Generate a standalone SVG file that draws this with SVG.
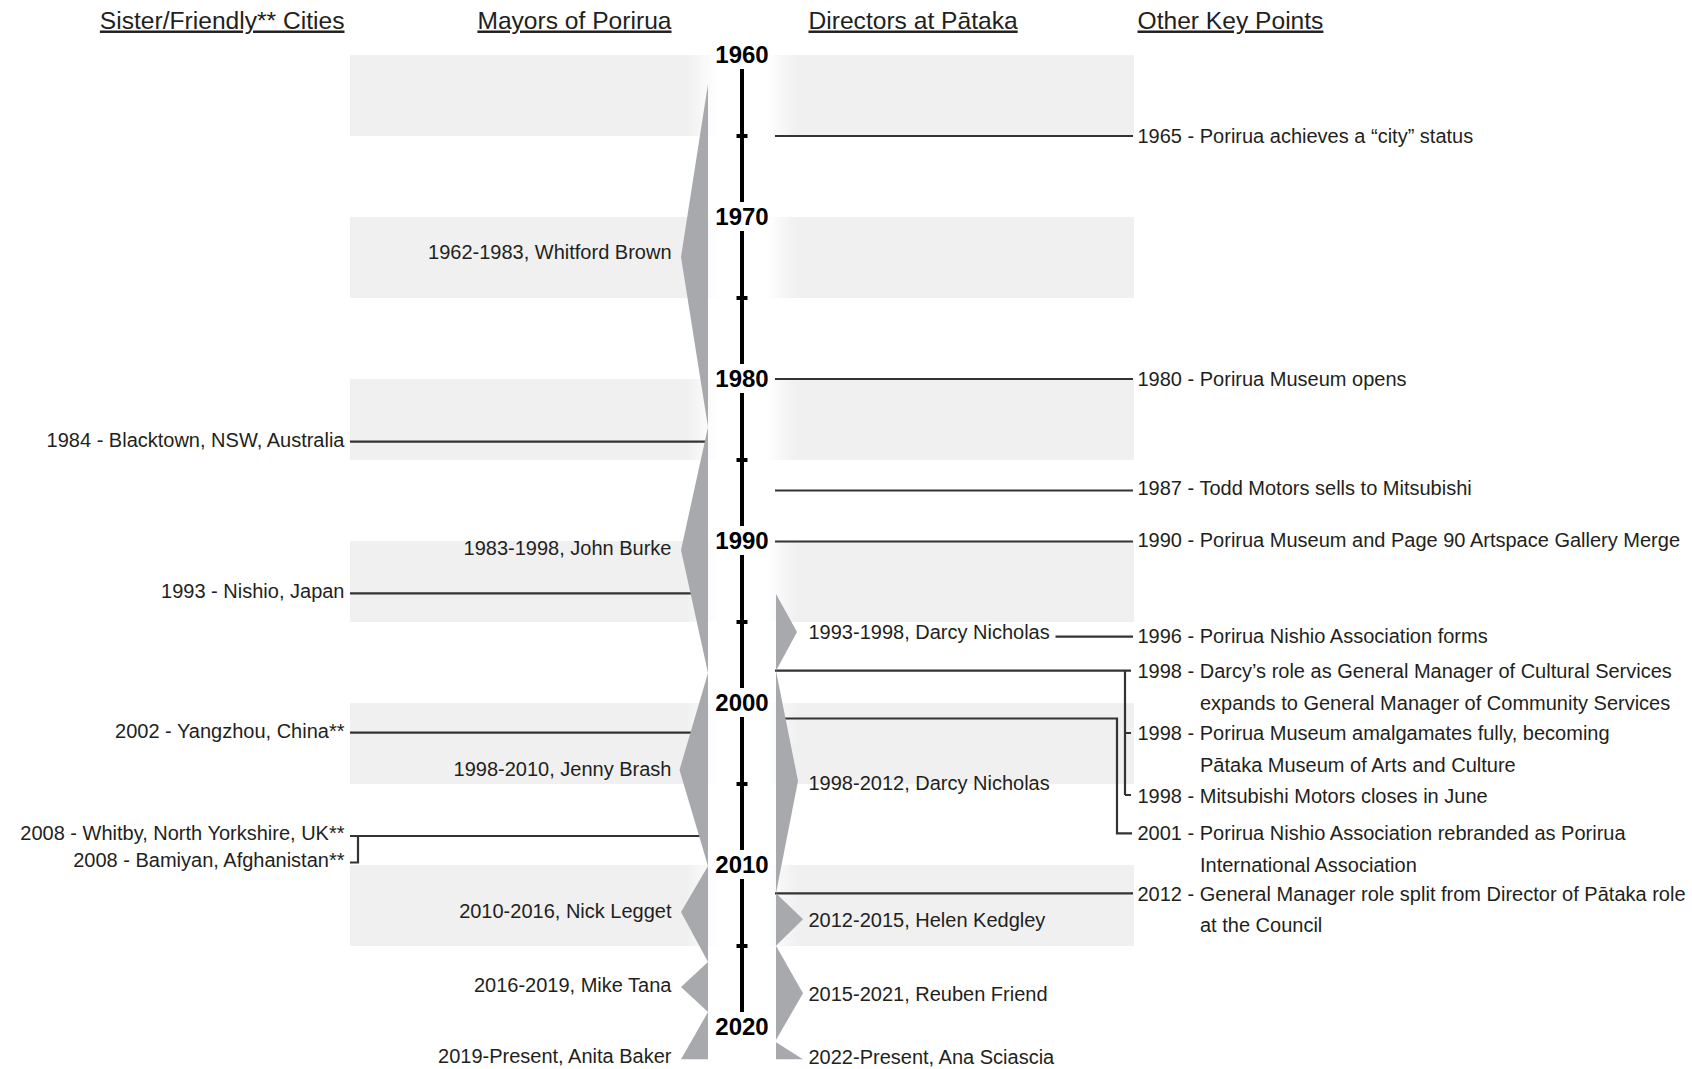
<svg xmlns="http://www.w3.org/2000/svg" width="1692" height="1069" viewBox="0 0 1692 1069">
<defs>
<linearGradient id="bandGrad" gradientUnits="userSpaceOnUse" x1="350" y1="0" x2="1134" y2="0">
  <stop offset="0" stop-color="#f0f0f0"/>
  <stop offset="0.4286" stop-color="#f0f0f0"/>
  <stop offset="0.4694" stop-color="#ffffff"/>
  <stop offset="0.5306" stop-color="#ffffff"/>
  <stop offset="0.5689" stop-color="#f0f0f0"/>
  <stop offset="1" stop-color="#f0f0f0"/>
</linearGradient>
<style>
text { font-family: "Liberation Sans", Arial, sans-serif; fill: #231f20; font-size: 20px; }
.r { text-anchor: end; }
.h { font-size: 24.6px; text-decoration: underline; }
.yr { font-size: 24px; font-weight: bold; text-anchor: middle; fill: #000; }
.band { fill: url(#bandGrad); }
.ln { stroke: #333; stroke-width: 2.2; fill: none; }
.ax { stroke: #000; stroke-width: 4; }
.tick { fill: #000; }
.shape { fill: #a8a9ad; }
</style>
</defs>
<rect width="1692" height="1069" fill="#fff"/>

<g id="bands">
  <rect class="band" x="350" y="55" width="784" height="81"/>
  <rect class="band" x="350" y="217" width="784" height="81"/>
  <rect class="band" x="350" y="379" width="784" height="81"/>
  <rect class="band" x="350" y="541" width="784" height="81"/>
  <rect class="band" x="350" y="703" width="784" height="81"/>
  <rect class="band" x="350" y="865" width="784" height="81"/>
</g>

<g id="titles">
  <text class="h r" x="344.5" y="28.5">Sister/Friendly** Cities</text>
  <text class="h r" x="671.5" y="28.5">Mayors of Porirua</text>
  <text class="h" x="808.5" y="28.5">Directors at Pātaka</text>
  <text class="h" x="1137.5" y="28.5">Other Key Points</text>
</g>

<g id="connectors">
  <path class="ln" d="M775 136 H1133"/>
  <path class="ln" d="M775 379 H1133"/>
  <path class="ln" d="M775 490.5 H1133"/>
  <path class="ln" d="M775 541.5 H1133"/>
  <path class="ln" d="M1055.5 636.7 H1133"/>
  <path class="ln" d="M775 670.7 H1131 M1125 670.7 V795 M1125 733 H1131 M1125 795 H1131"/>
  <path class="ln" d="M776 718.5 H1117 V833.3 H1132"/>
  <path class="ln" d="M775 893.3 H1133"/>
  <path class="ln" d="M350 441.7 H708"/>
  <path class="ln" d="M350 593.3 H708"/>
  <path class="ln" d="M350 732.7 H708"/>
  <path class="ln" d="M350 836 H708 M358 836 V862.5 H350"/>
</g>

<g id="axis">
  <path class="ax" d="M742 69 V202 M742 231 V364 M742 393 V526 M742 555 V688 M742 717 V850 M742 879 V1012"/>
  <rect class="tick" x="736.5" y="134" width="11" height="4"/>
  <rect class="tick" x="736.5" y="296" width="11" height="4"/>
  <rect class="tick" x="736.5" y="458" width="11" height="4"/>
  <rect class="tick" x="736.5" y="620" width="11" height="4"/>
  <rect class="tick" x="736.5" y="782" width="11" height="4"/>
  <rect class="tick" x="736.5" y="944" width="11" height="4"/>
  <text class="yr" x="742" y="62.5">1960</text>
  <text class="yr" x="742" y="224.5">1970</text>
  <text class="yr" x="742" y="386.5">1980</text>
  <text class="yr" x="742" y="548.5">1990</text>
  <text class="yr" x="742" y="710.5">2000</text>
  <text class="yr" x="742" y="872.5">2010</text>
  <text class="yr" x="742" y="1034.5">2020</text>
</g>

<g id="mayor-brown"><polygon class="shape" points="708,84 681,257 708,427"/><text class="r" x="671.5" y="258.5">1962-1983, Whitford Brown</text></g>
<g id="mayor-burke"><polygon class="shape" points="708,427 681,550 708,673"/><text class="r" x="671.5" y="555">1983-1998, John Burke</text></g>
<g id="mayor-brash"><polygon class="shape" points="708,673 679.5,770 708,866"/><text class="r" x="671.5" y="775.5">1998-2010, Jenny Brash</text></g>
<g id="mayor-legget"><polygon class="shape" points="708,866 681,912 708,962"/><text class="r" x="671.5" y="917.5">2010-2016, Nick Legget</text></g>
<g id="mayor-tana"><polygon class="shape" points="708,962 681,987 708,1012"/><text class="r" x="671.5" y="992">2016-2019, Mike Tana</text></g>
<g id="mayor-baker"><polygon class="shape" points="708,1012 681,1059.3 708,1059.3"/><text class="r" x="671.5" y="1063">2019-Present, Anita Baker</text></g>

<g id="director-nicholas-1"><polygon class="shape" points="776,594 797,632 776,670.7"/><text x="808.5" y="638.5">1993-1998, Darcy Nicholas</text></g>
<g id="director-nicholas-2"><polygon class="shape" points="776,670.7 798,781 776,893.3"/><text x="808.5" y="790">1998-2012, Darcy Nicholas</text></g>
<g id="director-kedgley"><polygon class="shape" points="776,893.3 803,919.3 776,945.7"/><text x="808.5" y="926.5">2012-2015, Helen Kedgley</text></g>
<g id="director-friend"><polygon class="shape" points="776,945.7 803,993.3 776,1040"/><text x="808.5" y="1000.5">2015-2021, Reuben Friend</text></g>
<g id="director-sciascia"><polygon class="shape" points="776,1042.3 803,1059.3 776,1059.3"/><text x="808.5" y="1063.5">2022-Present, Ana Sciascia</text></g>

<g id="key-1965"><text x="1137.5" y="142.5">1965 - Porirua achieves a “city” status</text></g>
<g id="key-1980"><text x="1137.5" y="385.5">1980 - Porirua Museum opens</text></g>
<g id="key-1987"><text x="1137.5" y="495">1987 - Todd Motors sells to Mitsubishi</text></g>
<g id="key-1990"><text x="1137.5" y="547">1990 - Porirua Museum and Page 90 Artspace Gallery Merge</text></g>
<g id="key-1996"><text x="1137.5" y="643">1996 - Porirua Nishio Association forms</text></g>
<g id="key-1998a"><text x="1137.5" y="678">1998 - Darcy’s role as General Manager of Cultural Services</text><text x="1200" y="710">expands to General Manager of Community Services</text></g>
<g id="key-1998b"><text x="1137.5" y="740">1998 - Porirua Museum amalgamates fully, becoming</text><text x="1200" y="772">Pātaka Museum of Arts and Culture</text></g>
<g id="key-1998c"><text x="1137.5" y="802.5">1998 - Mitsubishi Motors closes in June</text></g>
<g id="key-2001"><text x="1137.5" y="840">2001 - Porirua Nishio Association rebranded as Porirua</text><text x="1200" y="872">International Association</text></g>
<g id="key-2012"><text x="1137.5" y="901">2012 - General Manager role split from Director of Pātaka role</text><text x="1200" y="932">at the Council</text></g>

<g id="city-blacktown"><text class="r" x="344.5" y="446.5">1984 - Blacktown, NSW, Australia</text></g>
<g id="city-nishio"><text class="r" x="344.5" y="598">1993 - Nishio, Japan</text></g>
<g id="city-yangzhou"><text class="r" x="344.5" y="737.5">2002 - Yangzhou, China**</text></g>
<g id="city-whitby"><text class="r" x="344.5" y="840">2008 - Whitby, North Yorkshire, UK**</text></g>
<g id="city-bamiyan"><text class="r" x="344.5" y="867">2008 - Bamiyan, Afghanistan**</text></g>
</svg>
